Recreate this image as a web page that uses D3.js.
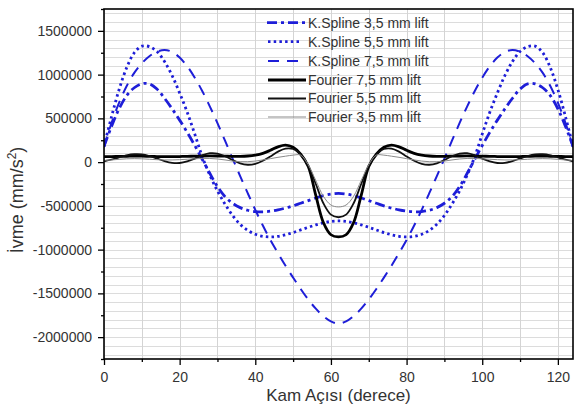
<!DOCTYPE html>
<html>
<head>
<meta charset="utf-8">
<script src="https://cdn.jsdelivr.net/npm/d3@7"></script>
<style>
body { margin: 0; background: #fff; }
svg text { font-family: "Liberation Sans", Arial, sans-serif; fill: #333; }
</style>
</head>
<body>
<div id="chart"></div>
<script>
const WIDTH = 575;
const HEIGHT = 410;
const LEFT = 104;
const RIGHT = 573;
const TOP = 9;
const BOTTOM = 359;

// cam angle (derece)
var angles = [0, 2, 4, 6, 8, 10, 12, 14, 16, 18, 20, 22, 24, 26, 28, 30, 32, 34, 36, 38, 40,
  42, 44, 46, 48, 50, 52, 54, 56, 58, 60, 62, 64, 66, 68, 70, 72, 74, 76, 78, 80, 82, 84,
  86, 88, 90, 92, 94, 96, 98, 100, 102, 104, 106, 108, 110, 112, 114, 116, 118, 120, 122, 124];

// acceleration values (mm/s^2)
var kspline35 = [180000, 410000, 610000, 760000, 850000, 895000, 895000, 835000, 730000, 610000,
  480000, 340000, 190000, 30000, -130000, -280000, -395000, -470000, -520000, -550000,
  -565000, -568000, -560000, -545000, -525000, -500000, -470000, -440000, -410000, -383000,
  -365000, -358000,
  -365000, -383000, -410000, -440000, -470000, -500000, -525000, -545000, -560000, -568000,
  -565000, -550000, -520000, -470000, -395000, -280000, -130000, 30000, 190000, 340000,
  480000, 610000, 730000, 835000, 895000, 895000, 850000, 760000, 610000, 410000, 180000];

var kspline55 = [180000, 520000, 830000, 1080000, 1250000, 1325000, 1320000, 1265000, 1150000, 990000,
  790000, 570000, 320000, 60000, -150000, -330000, -480000, -610000, -710000, -780000,
  -825000, -848000, -855000, -848000, -830000, -805000, -775000, -745000, -717000, -694000,
  -678000, -672000,
  -678000, -694000, -717000, -745000, -775000, -805000, -830000, -848000, -855000, -848000,
  -825000, -780000, -710000, -610000, -480000, -330000, -150000, 60000, 320000, 570000,
  790000, 990000, 1150000, 1265000, 1320000, 1325000, 1250000, 1080000, 830000, 520000, 180000];

var kspline75 = [170000, 450000, 680000, 870000, 1020000, 1130000, 1210000, 1262000, 1282000, 1260000,
  1195000, 1095000, 965000, 810000, 635000, 445000, 245000, 40000, -160000, -355000,
  -545000, -725000, -890000, -1040000, -1185000, -1320000, -1450000, -1570000, -1675000, -1760000,
  -1820000, -1845000,
  -1820000, -1760000, -1675000, -1570000, -1450000, -1320000, -1185000, -1040000, -890000, -725000,
  -545000, -355000, -160000, 40000, 245000, 445000, 635000, 810000, 965000, 1095000,
  1195000, 1260000, 1282000, 1262000, 1210000, 1130000, 1020000, 870000, 680000, 450000, 170000];

var fourier75 = [62000, 63000, 65000, 67000, 68000, 68000, 66000, 64000, 63000, 63000,
  64000, 66000, 68000, 70000, 71000, 70000, 68000, 66000, 66000, 70000,
  80000, 100000, 135000, 175000, 195000, 170000, 90000, -50000, -380000, -690000,
  -830000, -855000,
  -830000, -690000, -380000, -50000, 90000, 170000, 195000, 175000, 135000, 100000,
  80000, 70000, 66000, 66000, 68000, 70000, 71000, 70000, 68000, 66000,
  64000, 63000, 63000, 64000, 66000, 68000, 68000, 67000, 65000, 63000, 62000];

var fourier55 = [10000, 30000, 55000, 78000, 90000, 88000, 70000, 42000, 12000, -8000,
  -10000, 8000, 40000, 78000, 102000, 98000, 68000, 25000, -15000, -30000,
  -20000, 15000, 65000, 120000, 155000, 150000, 85000, -40000, -250000, -470000,
  -600000, -630000,
  -600000, -470000, -250000, -40000, 85000, 150000, 155000, 120000, 65000, 15000,
  -20000, -30000, -15000, 25000, 68000, 98000, 102000, 78000, 40000, 8000,
  -10000, -8000, 12000, 42000, 70000, 88000, 90000, 78000, 55000, 30000, 10000];

var fourier35 = [20000, 25000, 32000, 38000, 40000, 38000, 33000, 28000, 25000, 25000,
  28000, 33000, 38000, 42000, 42000, 36000, 25000, 12000, 5000, 5000,
  12000, 25000, 40000, 55000, 68000, 80000, 80000, -30000, -210000, -390000,
  -490000, -512000,
  -490000, -390000, -210000, -30000, 80000, 80000, 68000, 55000, 40000, 25000,
  12000, 5000, 5000, 12000, 25000, 36000, 42000, 42000, 38000, 33000,
  28000, 25000, 25000, 28000, 33000, 38000, 40000, 38000, 32000, 25000, 20000];

var seriesNames = ["K.Spline 3,5 mm lift", "K.Spline 5,5 mm lift", "K.Spline 7,5 mm lift",
  "Fourier 7,5 mm lift", "Fourier 5,5 mm lift", "Fourier 3,5 mm lift"];

var xTicks = [0, 20, 40, 60, 80, 100, 120];
var xMinorTicks = [10, 30, 50, 70, 90, 110];
var yTicks = [-2000000, -1500000, -1000000, -500000, 0, 500000, 1000000, 1500000];
var yMinorTicks = [-2250000, -1750000, -1250000, -750000, -250000, 250000, 750000, 1250000, 1750000];

var BLUE = "#1e1ed8";
var styles = [
  { color: BLUE, width: 2.8, dash: "10 4 3 4", x1: 267, x2: 305 },
  { color: BLUE, width: 2.8, dash: "2.5 3.2", x1: 268, x2: 300 },
  { color: BLUE, width: 2, dash: "11 8", x1: 268, x2: 298 },
  { color: "#000", width: 2.8, dash: null, x1: 268, x2: 306 },
  { color: "#111", width: 1.8, dash: null, x1: 268, x2: 306 },
  { color: "#8a8a8a", width: 1, dash: null, x1: 268, x2: 306 }
];

var translate = function (x, y) {
  return "translate(" + x + "," + y + ")";
};

var loadChart = function () {
  var series = [kspline35, kspline55, kspline75, fourier75, fourier55, fourier35];

  var xScale = d3.scaleLinear().domain([0, 124]).range([LEFT, RIGHT]);
  var yScale = d3.scaleLinear().domain([-2250000, 1750000]).range([BOTTOM, TOP]);

  var svg = d3.select("#chart").append("svg")
    .attr("width", WIDTH)
    .attr("height", HEIGHT);

  svg.append("defs").append("clipPath").attr("id", "plot")
    .append("rect")
    .attr("x", LEFT).attr("y", TOP)
    .attr("width", RIGHT - LEFT).attr("height", BOTTOM - TOP);

  // grid
  svg.append("g").selectAll("line")
    .data(yScale.ticks(40))
    .enter().append("line")
    .attr("x1", LEFT).attr("x2", RIGHT)
    .attr("y1", function (d) { return Math.round(yScale(d)) + 0.5; })
    .attr("y2", function (d) { return Math.round(yScale(d)) + 0.5; })
    .attr("stroke", "#dcdcdc").attr("stroke-width", 1);

  svg.append("g").selectAll("line")
    .data(xScale.ticks(12))
    .enter().append("line")
    .attr("y1", TOP).attr("y2", BOTTOM)
    .attr("x1", function (d) { return Math.round(xScale(d)) + 0.5; })
    .attr("x2", function (d) { return Math.round(xScale(d)) + 0.5; })
    .attr("stroke", "#d4d4d4").attr("stroke-width", 1);

  // curves
  var line = d3.line()
    .x(function (d, i) { return xScale(angles[i]); })
    .y(function (d) { return yScale(d); })
    .curve(d3.curveCatmullRom.alpha(0.5));

  var plot = svg.append("g").attr("clip-path", "url(#plot)");
  series.forEach(function (values, k) {
    var st = styles[k];
    plot.append("path")
      .attr("d", line(values))
      .attr("fill", "none")
      .attr("stroke", st.color)
      .attr("stroke-width", st.width)
      .attr("stroke-dasharray", st.dash)
      .attr("stroke-linejoin", "round");
  });

  // axes
  var xAxis = d3.axisBottom(xScale).tickValues(xTicks).tickSize(6).tickPadding(7)
    .tickFormat(function (d) { return String(d); });
  var xMinor = d3.axisBottom(xScale).tickValues(xMinorTicks).tickSize(3).tickFormat("");
  var yAxis = d3.axisLeft(yScale).tickValues(yTicks).tickSize(6).tickPadding(6)
    .tickFormat(function (d) { return String(d); });
  var yMinor = d3.axisLeft(yScale).tickValues(yMinorTicks).tickSize(3).tickFormat("");

  [[xAxis, translate(0, BOTTOM)], [xMinor, translate(0, BOTTOM)],
   [yAxis, translate(LEFT, 0)], [yMinor, translate(LEFT, 0)]].forEach(function (a) {
    var g = svg.append("g").attr("transform", a[1]).call(a[0]);
    g.select(".domain").remove();
    g.selectAll(".tick line").attr("stroke", "#000").attr("stroke-width", 1.3);
    g.selectAll("text").attr("font-size", 14).attr("fill", "#333");
  });

  // frame
  svg.append("rect")
    .attr("x", LEFT).attr("y", TOP)
    .attr("width", RIGHT - LEFT).attr("height", BOTTOM - TOP)
    .attr("fill", "none").attr("stroke", "#000").attr("stroke-width", 1.6);

  // axis titles
  svg.append("text")
    .attr("x", (LEFT + RIGHT) / 2).attr("y", 401)
    .attr("text-anchor", "middle").attr("font-size", 17)
    .text("Kam Açısı (derece)");

  var yt = svg.append("text")
    .attr("transform", translate(23, 200) + " rotate(-90)")
    .attr("text-anchor", "middle").attr("font-size", 18);
  yt.append("tspan").text("İvme (mm/s");
  yt.append("tspan").attr("dy", -7).attr("font-size", 12).text("2");
  yt.append("tspan").attr("dy", 7).text(")");

  // legend
  var rowY = [22.7, 41.7, 61, 80, 98.5, 117];
  var legend = svg.append("g");
  seriesNames.forEach(function (name, k) {
    var st = styles[k];
    legend.append("line")
      .attr("x1", st.x1).attr("x2", st.x2)
      .attr("y1", rowY[k]).attr("y2", rowY[k])
      .attr("stroke", st.color).attr("stroke-width", st.width)
      .attr("stroke-dasharray", st.dash);
    legend.append("text")
      .attr("x", 308).attr("y", rowY[k]).attr("dy", "0.35em")
      .attr("font-size", 14)
      .text(name);
  });
};

window.onload = loadChart;
</script>
</body>
</html>
